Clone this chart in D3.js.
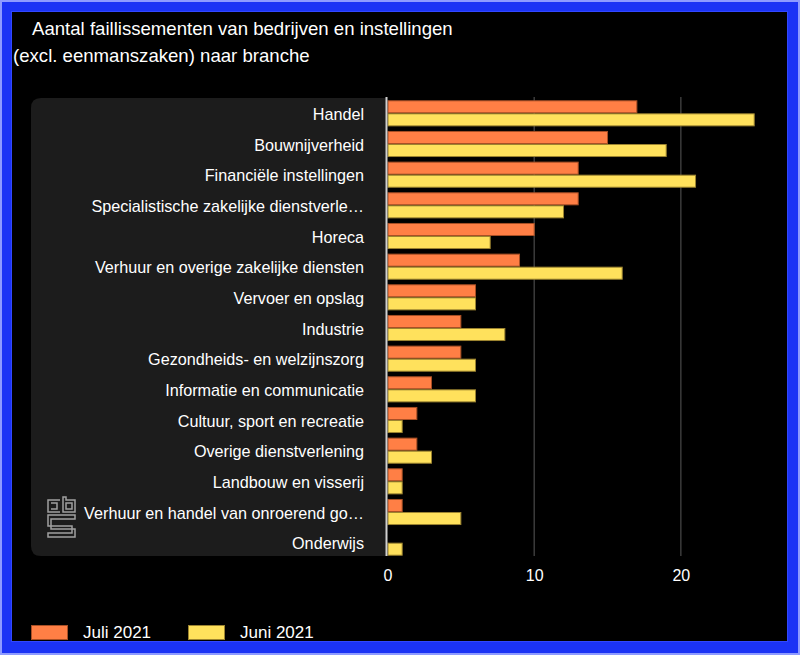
<!DOCTYPE html>
<html><head><meta charset="utf-8">
<script src="https://cdn.jsdelivr.net/npm/d3@7"></script>
<style>html,body{margin:0;padding:0;background:#000;}svg{display:block;}</style>
</head><body>
<svg id="c" width="800" height="655"></svg>
<script>
const categories = ["Handel","Bouwnijverheid","Financiële instellingen","Specialistische zakelijke dienstverle…","Horeca","Verhuur en overige zakelijke diensten","Vervoer en opslag","Industrie","Gezondheids- en welzijnszorg","Informatie en communicatie","Cultuur, sport en recreatie","Overige dienstverlening","Landbouw en visserij","Verhuur en handel van onroerend go…","Onderwijs"];
const juli2021 = [17,15,13,13,10,9,6,5,5,3,2,2,1,1,0];
const juni2021 = [25,19,21,12,7,16,6,8,6,6,1,3,1,5,1];
const seriesNames = ["Juli 2021","Juni 2021"];
const xTicks = [0,10,20];
const titleLines = ["Aantal faillissementen van bedrijven en instellingen","(excl. eenmanszaken) naar branche"];

const fills = ["#ff7f45","#ffe15c"];
const strokes = ["#a84f25","#9c8430"];
const svg = d3.select("#c");
const font = "'Liberation Sans', Arial, sans-serif";

// frame
svg.append("rect").attr("x",0).attr("y",0).attr("width",800).attr("height",655).attr("fill","#8e9bff");
svg.append("rect").attr("x",2).attr("y",2).attr("width",796).attr("height",651).attr("fill","#1b33f5");
svg.append("rect").attr("x",11).attr("y",11).attr("width",777).attr("height",631).attr("fill","#3147ff");
svg.append("rect").attr("x",12).attr("y",12).attr("width",775).attr("height",629).attr("fill","#000");

// title
svg.append("text").attr("x",32).attr("y",35).attr("fill","#fff").attr("font-family",font).attr("font-size",18.6).text(titleLines[0]);
svg.append("text").attr("x",13).attr("y",62).attr("fill","#fff").attr("font-family",font).attr("font-size",18.6).text(titleLines[1]);

// panel
svg.append("path").attr("fill","#1c1c1c")
  .attr("d","M31,108 Q31,98 41,98 L386,98 L386,556 L41,556 Q31,556 31,546 Z");

const x = d3.scaleLinear().domain([0,25]).range([387.5,754.2]);
const y = d3.scaleBand().domain(categories).range([98,558]).paddingInner(0.15).paddingOuter(0.075);
const ys = d3.scaleBand().domain(seriesNames).range([0,y.bandwidth()]);

// grid
svg.append("g").selectAll("line").data(xTicks.filter(d=>d>0)).join("line")
  .attr("x1",d=>x(d)).attr("x2",d=>x(d)).attr("y1",97).attr("y2",556)
  .attr("stroke","#4a4a4a").attr("stroke-width",1.2);

// bars
const data = categories.map((c,i)=>({c, vals:[juli2021[i],juni2021[i]]}));
const g = svg.append("g");
data.forEach(d=>{
  d.vals.forEach((v,k)=>{
    if(v<=0) return;
    g.append("rect")
      .attr("x",x(0)+0.5).attr("y",y(d.c)+ys(seriesNames[k])+0.5)
      .attr("width",x(v)-x(0)-0.5).attr("height",ys.bandwidth()-1)
      .attr("fill",fills[k]).attr("stroke",strokes[k]).attr("stroke-width",1);
  });
});

// axis line
svg.append("line").attr("x1",386.5).attr("x2",386.5).attr("y1",97).attr("y2",556).attr("stroke","#d0d0d0").attr("stroke-width",2);

// category labels
svg.append("g").selectAll("text").data(categories).join("text")
  .attr("x",364).attr("y",d=>y(d)+y.bandwidth()/2+1).attr("dy","0.35em")
  .attr("text-anchor","end").attr("fill","#fff").attr("font-family",font).attr("font-size",16.2).text(d=>d);

// x axis ticks
const xa = svg.append("g").attr("transform","translate(0,556)").call(d3.axisBottom(x).tickValues(xTicks).tickSize(0).tickPadding(14));
xa.select(".domain").remove();
xa.selectAll("text").attr("fill","#fff").attr("font-family",font).attr("font-size",16);

// legend
const lg = svg.append("g");
seriesNames.forEach((s,k)=>{
  const lx = k===0 ? 31 : 188;
  lg.append("rect").attr("x",lx+0.5).attr("y",625.5).attr("width",36).attr("height",14).attr("fill",fills[k]).attr("stroke",strokes[k]);
  lg.append("text").attr("x",lx+52).attr("y",638).attr("fill","#fff").attr("font-family",font).attr("font-size",17).text(s);
});

// cbs logo
const logo = svg.append("g").attr("fill","none").attr("stroke","#a0a0a0").attr("stroke-width",1.5);
logo.append("path").attr("d","M60,500 L48,500 L48,512 L60,512 M51,503 L57,503 L57,509 L51,509");
logo.append("path").attr("d","M63,497 L63,512 L75,512 L75,500 L66,500 L66,497 Z M66,503 L72,503 L72,509 L66,509 Z");
logo.append("path").attr("d","M75,515 L48,515 L48,526 L72,526 L72,533 L48,533 L48,537 L75,537 L75,529 L51,529 L51,519 L75,519 Z");
</script>
</body></html>
